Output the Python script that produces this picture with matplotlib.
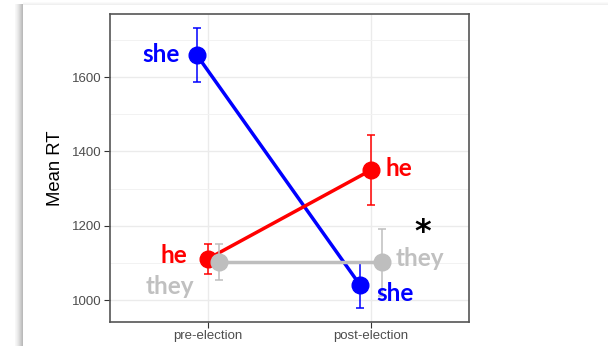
import numpy as np
import matplotlib
matplotlib.use('Agg')
from matplotlib import pyplot as plt
from matplotlib.patches import Rectangle

# data
conditions = ['pre-election', 'post-election']
pronouns = ['she', 'he', 'they']
she_rt = [1659, 1040]
he_rt = [1111, 1350]
they_rt = [1102, 1102]
she_err = [72, 60]
he_err = [41, 94]
they_err = [49, 90]

colors = {'she': '#0000FF', 'he': '#FF0000', 'they': '#BEBEBE'}
dodge = {'she': -0.067, 'he': 0.0, 'they': 0.067}

plt.rcParams['font.family'] = ['Liberation Sans', 'DejaVu Sans']

fig = plt.figure(figsize=(6.08, 3.46), dpi=100)

# card look with soft shadow on left/top
for i, a in enumerate([0.03, 0.05, 0.08, 0.11, 0.15, 0.19, 0.23, 0.27]):
    fig.patches.append(Rectangle(((15 + i) / 608, 0), 1 / 608, 1 - 4 / 346,
                                 transform=fig.transFigure, color='black',
                                 alpha=a, lw=0, zorder=-5))
for i, a in enumerate([0.02, 0.04, 0.06]):
    fig.patches.append(Rectangle((23 / 608, (343 - i) / 346), 1, 1 / 346,
                                 transform=fig.transFigure, color='black',
                                 alpha=a, lw=0, zorder=-5))

ax = fig.add_axes([110 / 608, 24 / 346, 359 / 608, 308 / 346])

x = np.arange(1, len(conditions) + 1)
series = {'she': (she_rt, she_err), 'he': (he_rt, he_err), 'they': (they_rt, they_err)}

for p in ['she', 'he', 'they']:
    vals, errs = series[p]
    xs = x + dodge[p]
    ax.plot(xs, vals, color=colors[p], lw=2.5, zorder=3)
    ax.errorbar(xs, vals, yerr=errs, fmt='none', ecolor=colors[p], elinewidth=1.1,
                capsize=3, capthick=1.1, zorder=3)
    ax.plot(xs, vals, 'o', color=colors[p], markersize=12, zorder=4)

# labels next to points (pixel offsets: right, up)
lab_font = dict(family=['Lato', 'DejaVu Sans'], weight='bold', fontsize=17.5)
offsets = {
    'she': [(-17, 1, 'right'), (16, -8, 'left')],
    'he': [(-21, 3, 'right'), (14, 2, 'left')],
    'they': [(-25, -24, 'right'), (14, 4, 'left')],
}
for p in pronouns:
    vals = series[p][0]
    for j in range(len(conditions)):
        dx, dy, ha = offsets[p][j]
        ax.annotate(p, xy=(x[j] + dodge[p], vals[j]), xytext=(dx, dy),
                    textcoords='offset pixels', ha=ha, va='center',
                    color='#C0C0C0' if p == 'they' else colors[p], **lab_font)

# significance star (mathtext keeps the box tight around the glyph)
ax.text(2.32, 1186, r'$\mathbf{*}$', ha='center', va='center', fontsize=23,
        color='black')

ax.set_xlim(0.4, 2.6)
ax.set_ylim(941, 1770)
ax.set_xticks(x)
ax.set_xticklabels(conditions)
ax.set_yticks([1000, 1200, 1400, 1600])
ax.set_yticks([1100, 1300, 1500, 1700], minor=True)
ax.grid(True, which='major', color='#EBEBEB', lw=1.0, zorder=0)
ax.grid(True, which='minor', axis='y', color='#F2F2F2', lw=0.7, zorder=0)
ax.set_axisbelow(True)
ax.tick_params(which='major', length=4, color='#333333', labelcolor='#4D4D4D',
               labelsize=9.5, pad=2)
ax.tick_params(which='minor', length=0)
for s in ax.spines.values():
    s.set_color('#555555')
    s.set_linewidth(1.2)
ax.set_ylabel('Mean RT', fontsize=13.3, labelpad=6)

fig.savefig('out.png', dpi=100)
